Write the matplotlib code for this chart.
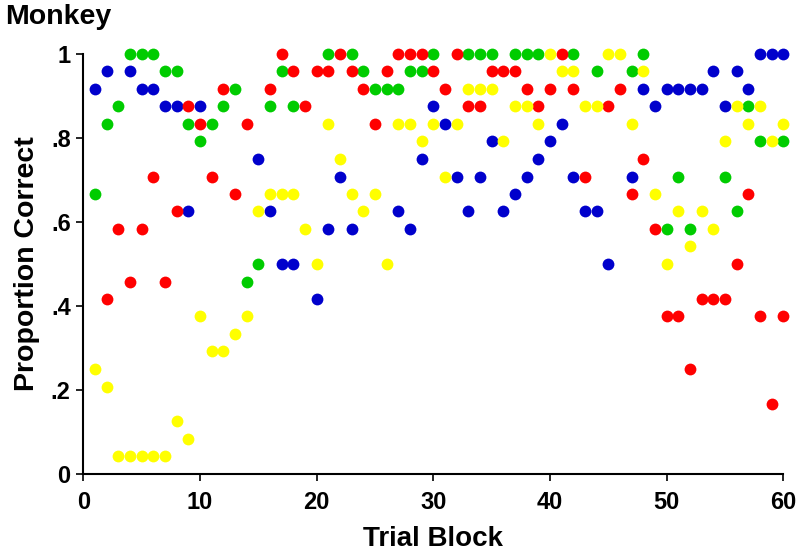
import numpy as np
import matplotlib
matplotlib.use('Agg')
import matplotlib.pyplot as plt

nan = np.nan
blocks = list(range(1, 61))

# proportion correct per trial block (nan = not visible)
blue = [.917, .958, nan, .958, .917, .917, .875, .875, .625, .875,
        nan, nan, nan, nan, .75, .625, .5, .5, nan, .417,
        .583, .708, .583, nan, nan, nan, .625, .583, .75, .875,
        .833, .708, .625, .708, .792, .625, .667, .708, .75, .792,
        .833, .708, .625, .625, .5, nan, .708, .917, .875, .917,
        .917, .917, .917, .958, .875, .958, .917, 1.0, 1.0, 1.0]
red = [nan, .417, .583, .458, .583, .708, .458, .625, .875, .833,
       .708, .917, .667, .833, nan, .917, 1.0, .958, .875, .958,
       .958, 1.0, .958, .917, .833, .958, 1.0, 1.0, 1.0, .958,
       .917, 1.0, .875, .875, .958, .958, .958, .917, .875, .917,
       1.0, .917, .708, nan, .875, .917, .667, .75, .583, .375,
       .375, .25, .417, .417, .417, .5, .667, .375, .167, .375]
green = [.667, .833, .875, 1.0, 1.0, 1.0, .958, .958, .833, .792,
         .833, .875, .917, .458, .5, .875, .958, .875, nan, nan,
         1.0, nan, 1.0, .958, .917, .917, .917, .958, .958, 1.0,
         nan, nan, 1.0, 1.0, 1.0, nan, 1.0, 1.0, 1.0, nan,
         nan, 1.0, nan, .958, nan, nan, .958, 1.0, nan, .583,
         .708, .583, nan, nan, .708, .625, .875, .792, nan, .792]
yellow = [.25, .208, .042, .042, .042, .042, .042, .125, .083, .375,
          .292, .292, .333, .375, .625, .667, .667, .667, .583, .5,
          .833, .75, .667, .625, .667, .5, .833, .833, .792, .833,
          .708, .833, .917, .917, .917, .792, .875, .875, .833, 1.0,
          .958, .958, .875, .875, 1.0, 1.0, .833, .958, .667, .5,
          .625, .542, .625, .583, .792, .875, .833, .875, .792, .833]

plt.rcParams['font.family'] = ['Liberation Sans', 'DejaVu Sans']
plt.rcParams['font.weight'] = 'bold'

fig = plt.figure(figsize=(8, 5.55), dpi=100)
ax = fig.add_axes([0.104, 0.146, 0.875, 0.757])

for vals, col in [(green, '#00cc00'), (blue, '#0000cc'),
                  (red, '#ff0000'), (yellow, '#ffff00')]:
    ax.plot(blocks, vals, 'o', color=col, markersize=8.5,
            markeredgewidth=0, clip_on=False)

ax.set_xlim(0, 60)
ax.set_ylim(0, 1)
ax.set_xticks(range(0, 61, 10))
ax.set_yticks([0, .2, .4, .6, .8, 1])
ax.set_yticklabels(['0', '.2', '.4', '.6', '.8', '1'])
for s in ['top', 'right']:
    ax.spines[s].set_visible(False)
for s in ['left', 'bottom']:
    ax.spines[s].set_linewidth(1.5)
ax.tick_params(direction='out', length=5, width=1.2, labelsize=17)
ax.tick_params(axis='x', pad=7)
ax.tick_params(axis='y', pad=4)
for lab in ax.get_xticklabels() + ax.get_yticklabels():
    lab.set_fontweight('bold')

ax.set_xlabel('Trial Block', fontsize=20, fontweight='bold', labelpad=9)
ax.set_ylabel('Proportion Correct', fontsize=20.5, fontweight='bold', labelpad=8)
fig.text(0.006, 0.957, 'Monkey', fontsize=20.5, fontweight='bold', va='baseline')

fig.savefig('out.png', dpi=100)
